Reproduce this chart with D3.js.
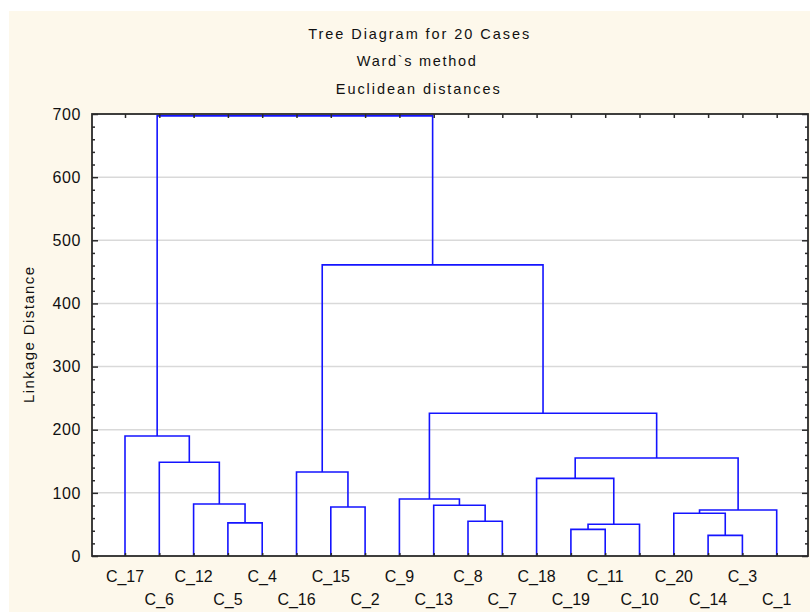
<!DOCTYPE html>
<html>
<head>
<meta charset="utf-8">
<script src="https://cdn.jsdelivr.net/npm/d3@7"></script>
<style>
  html, body { margin: 0; padding: 0; background: #fff; }
  svg { display: block; font-family: "Liberation Sans", Arial, sans-serif; }
</style>
</head>
<body>
<div id="chart"></div>
<script>
// Leaves in display order
const leaves = ["C_17", "C_6", "C_12", "C_5", "C_4", "C_16", "C_15", "C_2", "C_9", "C_13",
                "C_8", "C_7", "C_18", "C_19", "C_11", "C_10", "C_20", "C_14", "C_3", "C_1"];

// Merge steps: [left, right, linkage distance]; "mN" refers to the N-th merge (1-based)
const merges = [
    ["C_14", "C_3", 32.7],
    ["C_19", "C_11", 42.2],
    ["m2", "C_10", 50.2],
    ["C_5", "C_4", 52.5],
    ["C_8", "C_7", 55],
    ["C_20", "m1", 67.6],
    ["m6", "C_1", 72.8],
    ["C_15", "C_2", 77.6],
    ["C_13", "m5", 80.3],
    ["C_12", "m4", 82.3],
    ["C_9", "m9", 90.3],
    ["C_18", "m3", 123],
    ["C_16", "m8", 133],
    ["C_6", "m10", 148.4],
    ["m12", "m7", 155.2],
    ["C_17", "m14", 190],
    ["m11", "m15", 226],
    ["m13", "m17", 461],
    ["m16", "m18", 697]
];

const yTicks = [0, 100, 200, 300, 400, 500, 600, 700];
const titleLines = ["Tree Diagram for 20 Cases", "Ward`s method", "Euclidean distances"];
const yLabel = "Linkage Distance";

const W = 810, H = 614;
const plot = { left: 92, right: 808, top: 114, bottom: 556 };

const svg = d3.select("#chart")
    .append("svg")
    .attr("width", W)
    .attr("height", H);

// background
svg.append("rect")
    .attr("x", 9).attr("y", 11)
    .attr("width", W - 9).attr("height", H - 13)
    .attr("fill", "#fdf8eb");

svg.append("rect")
    .attr("x", plot.left).attr("y", plot.top)
    .attr("width", plot.right - plot.left).attr("height", plot.bottom - plot.top)
    .attr("fill", "#fff");

// scales
const x = d3.scalePoint().domain(leaves).range([125, 776.7]);
const y = d3.scaleLinear().domain([0, 700]).range([plot.bottom, plot.top]);

// gridlines
svg.append("g")
    .selectAll("line")
    .data(yTicks.filter(d => d > 0 && d < 700))
    .join("line")
    .attr("x1", plot.left).attr("x2", plot.right)
    .attr("y1", d => y(d)).attr("y2", d => y(d))
    .attr("stroke", "#d9d9d9")
    .attr("stroke-width", 1.5);

// dendrogram
const nodes = {};
leaves.forEach(l => { nodes[l] = { x: x(l), h: 0 }; });
const link = svg.append("g")
    .attr("fill", "none")
    .attr("stroke", "#1414ff")
    .attr("stroke-width", 1.6);
merges.forEach((m, i) => {
    const a = nodes[m[0]], b = nodes[m[1]];
    const p = d3.path();
    p.moveTo(a.x, y(a.h));
    p.lineTo(a.x, y(m[2]));
    p.lineTo(b.x, y(m[2]));
    p.lineTo(b.x, y(b.h));
    link.append("path").attr("d", p.toString());
    nodes["m" + (i + 1)] = { x: (a.x + b.x) / 2, h: m[2] };
});

// axes
const axisColor = "#2a2a2a";
const leftAxis = svg.append("g")
    .attr("transform", `translate(${plot.left},0)`)
    .call(d3.axisRight(y).tickValues(d3.range(0, 701, 20)).tickSize(3).tickFormat(""));
const rightAxis = svg.append("g")
    .attr("transform", `translate(${plot.right},0)`)
    .call(d3.axisLeft(y).tickValues(d3.range(0, 701, 20)).tickSize(3).tickFormat(""));
leftAxis.selectAll(".tick line").attr("x2", d => d % 100 === 0 ? 6 : 3);
rightAxis.selectAll(".tick line").attr("x2", d => d % 100 === 0 ? -6 : -3);
const topAxis = svg.append("g")
    .attr("transform", `translate(0,${plot.top})`)
    .call(d3.axisBottom(x).tickSize(4).tickFormat(""));
const bottomAxis = svg.append("g")
    .attr("transform", `translate(0,${plot.bottom})`)
    .call(d3.axisTop(x).tickSize(3).tickFormat(""));
[leftAxis, rightAxis, topAxis, bottomAxis].forEach(g => {
    g.select(".domain").remove();
    g.selectAll(".tick line").attr("stroke", axisColor).attr("stroke-width", 1.5);
});

// frame
svg.append("rect")
    .attr("x", plot.left).attr("y", plot.top)
    .attr("width", plot.right - plot.left).attr("height", plot.bottom - plot.top)
    .attr("fill", "none")
    .attr("stroke", axisColor)
    .attr("stroke-width", 1.8);

// y tick labels
svg.append("g")
    .selectAll("text")
    .data(yTicks)
    .join("text")
    .attr("x", 81)
    .attr("y", d => y(d))
    .attr("dy", "0.36em")
    .attr("text-anchor", "end")
    .attr("font-size", 16)
    .attr("letter-spacing", 0.6)
    .attr("fill", "#111")
    .text(d => d);

// leaf labels, two staggered rows
svg.append("g")
    .selectAll("text")
    .data(leaves)
    .join("text")
    .attr("x", d => x(d))
    .attr("y", (d, i) => i % 2 === 0 ? 581.5 : 605)
    .attr("text-anchor", "middle")
    .attr("font-size", 16)
    .attr("fill", "#111")
    .text(d => d);

// y axis title
svg.append("text")
    .attr("transform", `translate(34,335) rotate(-90)`)
    .attr("x", -68)
    .attr("font-size", 15)
    .attr("textLength", 136)
    .attr("lengthAdjust", "spacing")
    .attr("fill", "#111")
    .text(yLabel);

// title
const titleWidths = [221, 119, 164];
const titleX = [418.7, 416.3, 417.8];
svg.append("g")
    .selectAll("text")
    .data(titleLines)
    .join("text")
    .attr("x", (d, i) => titleX[i] - titleWidths[i] / 2)
    .attr("y", (d, i) => 38.8 + i * 27.5)
    .attr("font-size", 14.5)
    .attr("textLength", (d, i) => titleWidths[i])
    .attr("lengthAdjust", "spacing")
    .attr("fill", "#111")
    .text(d => d);
</script>
</body>
</html>
